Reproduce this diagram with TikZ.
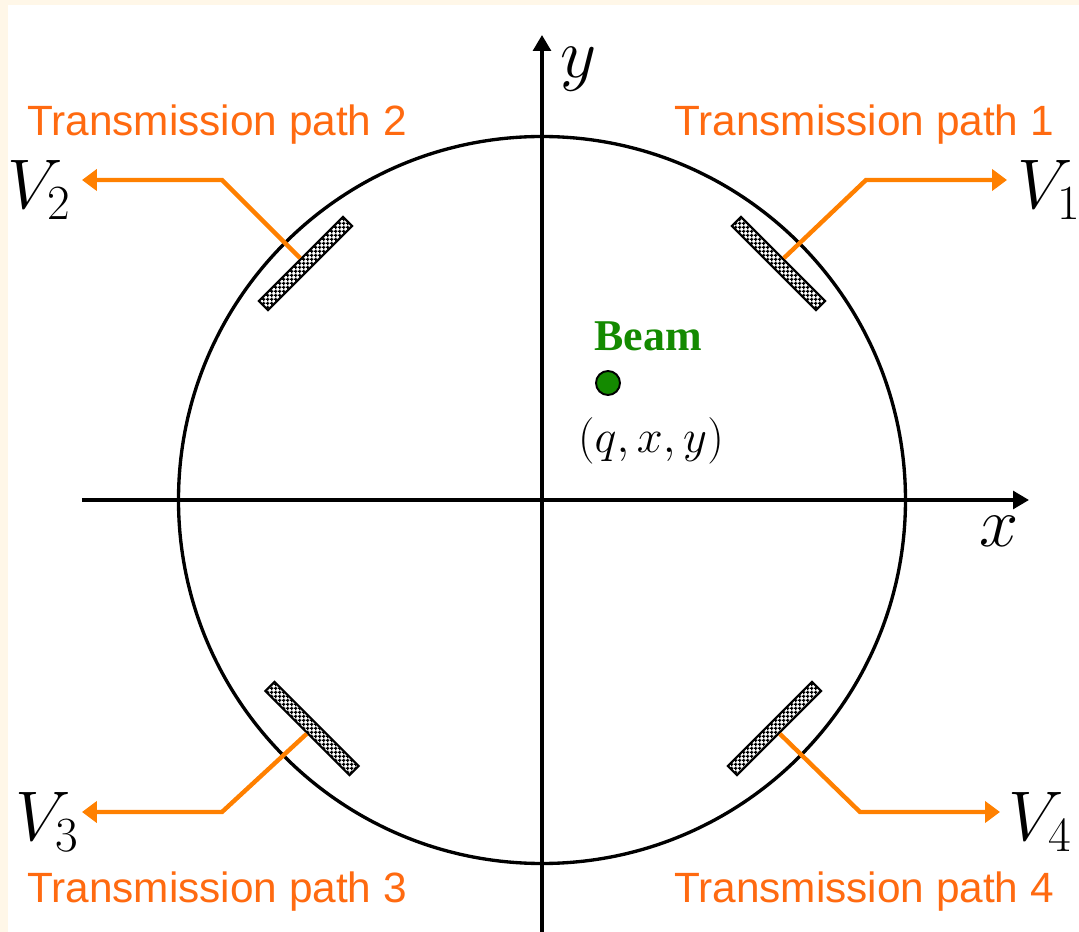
\documentclass[tikz,border=0pt]{standalone}
\usepackage{fix-cm}
\usepackage{fontspec}
\usetikzlibrary{patterns,arrows.meta}
\newfontfamily\pathfont{Liberation Sans}
\newfontfamily\beamfont{Liberation Serif}
\definecolor{pathorange}{HTML}{FF8000}
\definecolor{textorange}{HTML}{FF6A10}
\definecolor{beamgreen}{HTML}{148A00}
\definecolor{pagecream}{HTML}{FFF7E8}
\pgfdeclarepatternformonly{sensorweave}{\pgfqpoint{0pt}{0pt}}{\pgfqpoint{2.1pt}{2.1pt}}{\pgfqpoint{2.1pt}{2.1pt}}{
  \pgfsetlinewidth{0.8pt}
  \pgfpathmoveto{\pgfqpoint{0pt}{1.05pt}}
  \pgfpathlineto{\pgfqpoint{2.1pt}{1.05pt}}
  \pgfpathmoveto{\pgfqpoint{1.05pt}{0pt}}
  \pgfpathlineto{\pgfqpoint{1.05pt}{2.1pt}}
  \pgfusepath{stroke}
}
\begin{document}
\begin{tikzpicture}[
  axis/.style={-{Triangle[length=9pt,width=10pt]}, line width=2pt},
  signal/.style={-{Triangle[length=8.5pt,width=12pt]}, draw=pathorange, line width=2.5pt},
  sensor/.style={rectangle, draw=black, line width=1.2pt, minimum width=2.38cm, minimum height=0.26cm, inner sep=0pt, pattern=sensorweave},
  pathlabel/.style={text=textorange, font=\pathfont\fontsize{24.1}{28}\selectfont, inner sep=0pt},
  mathlabel/.style={font=\fontsize{40}{46}\selectfont, inner sep=0pt}
]
  \fill[pagecream] (-10.84,10.0) rectangle (10.74,-8.64);
  \fill[white] (-10.68,9.9) rectangle (10.74,-8.64);
  \useasboundingbox (-10.84,10.0) rectangle (10.74,-8.64);

  \node[circle, draw=black, line width=1.9pt, minimum size=14.54cm, inner sep=0pt] (ring) at (0,0) {};

  \coordinate (xstart) at (-9.2,0);
  \coordinate (xend) at (9.74,0);
  \coordinate (ystart) at (0,-8.64);
  \coordinate (yend) at (0,9.3);
  \draw[axis] (xstart) -- (xend);
  \draw[axis] (ystart) -- (yend);
  \node[mathlabel] (xlabel) at (9.14,-0.62) {\(x\)};
  \node[mathlabel] (ylabel) at (0.74,8.62) {\(y\)};

  \node[sensor, rotate=-45] (sens1) at (4.73,4.73) {};
  \node[sensor, rotate=45] (sens2) at (-4.73,4.73) {};
  \node[sensor, rotate=-45] (sens3) at (-4.6,-4.57) {};
  \node[sensor, rotate=45] (sens4) at (4.65,-4.57) {};

  \coordinate (bend1) at (6.48,6.4);
  \coordinate (bend2) at (-6.4,6.4);
  \coordinate (bend3) at (-6.4,-6.24);
  \coordinate (bend4) at (6.36,-6.24);
  \coordinate (tip1) at (9.3,6.4);
  \coordinate (tip2) at (-9.2,6.4);
  \coordinate (tip3) at (-9.2,-6.24);
  \coordinate (tip4) at (9.16,-6.24);
  \draw[signal] (sens1.north) -- (bend1) -- (tip1);
  \draw[signal] (sens2.north) -- (bend2) -- (tip2);
  \draw[signal] (sens3.south) -- (bend3) -- (tip3);
  \draw[signal] (sens4.south) -- (bend4) -- (tip4);

  \node[mathlabel] (v1) at (10.14,6.2) {\(V_1\)};
  \node[mathlabel] (v2) at (-10.06,6.2) {\(V_2\)};
  \node[mathlabel] (v3) at (-9.9,-6.44) {\(V_3\)};
  \node[mathlabel] (v4) at (9.96,-6.44) {\(V_4\)};

  \node[pathlabel] (path1) at (6.44,7.5) {Transmission path 1};
  \node[pathlabel] (path2) at (-6.5,7.5) {Transmission path 2};
  \node[pathlabel] (path3) at (-6.5,-7.84) {Transmission path 3};
  \node[pathlabel] (path4) at (6.44,-7.84) {Transmission path 4};

  \node[circle, draw=black, fill=beamgreen, line width=1.1pt, minimum size=0.48cm, inner sep=0pt] (beam) at (1.32,2.34) {};
  \node[text=beamgreen, font=\beamfont\bfseries\fontsize{25}{28}\selectfont, inner sep=0pt] (beamlabel) at (2.12,3.28) {Beam};
  \node[font=\fontsize{26.5}{30}\selectfont, inner sep=0pt] (beampos) at (2.18,1.18) {\((q,x,y)\)};
\end{tikzpicture}
\end{document}
